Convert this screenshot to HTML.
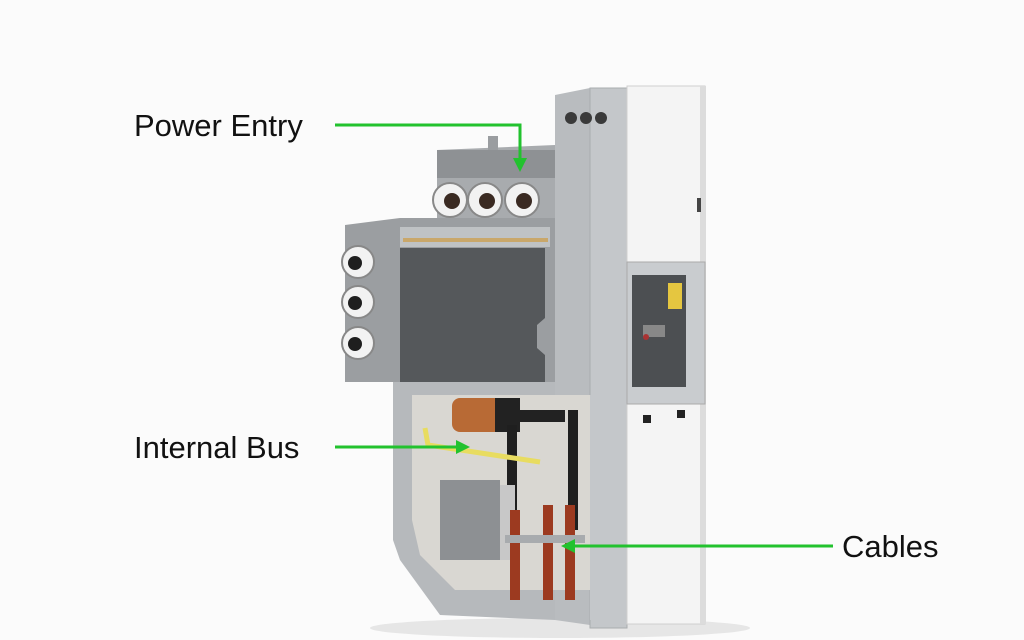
<!DOCTYPE html>
<html><head><style>
html,body{margin:0;padding:0;background:#fbfbfb;width:1024px;height:640px;overflow:hidden}
</style></head><body>
<svg width="1024" height="640" xmlns="http://www.w3.org/2000/svg">
<rect width="1024" height="640" fill="#fbfbfb"/>
<!-- shadow -->
<ellipse cx="560" cy="628" rx="190" ry="10" fill="#e6e6e6"/>
<!-- tall column side -->
<polygon points="555,95 590,88 590,625 555,620" fill="#b9bcbf"/>
<rect x="590" y="88" width="37" height="540" fill="#c4c7ca"/>
<rect x="590" y="88" width="37" height="540" fill="none" stroke="#a9acaf"/>
<circle cx="571" cy="118" r="6" fill="#3a3a3a"/>
<circle cx="586" cy="118" r="6" fill="#3a3a3a"/>
<circle cx="601" cy="118" r="6" fill="#3a3a3a"/>
<!-- white front -->
<rect x="627" y="86" width="78" height="538" fill="#f4f4f4" stroke="#cfcfcf"/>
<rect x="700" y="86" width="6" height="538" fill="#dcdcdc"/>
<rect x="697" y="198" width="4" height="14" fill="#444"/>
<!-- device panel -->
<rect x="627" y="262" width="78" height="142" fill="#c9cccf" stroke="#aaa"/>
<rect x="632" y="275" width="54" height="112" fill="#4c4f52"/>
<rect x="668" y="283" width="14" height="26" fill="#e5c640"/>
<rect x="643" y="325" width="22" height="12" fill="#888"/>
<circle cx="646" cy="337" r="3" fill="#a33"/>
<rect x="643" y="415" width="8" height="8" fill="#222"/>
<rect x="677" y="410" width="8" height="8" fill="#222"/>
<!-- top box -->
<polygon points="437,150 555,145 555,262 437,262" fill="#a8abae"/>
<rect x="437" y="150" width="118" height="28" fill="#8e9194"/>
<rect x="488" y="136" width="10" height="14" fill="#9a9da0"/>
<g fill="#f2f2f2" stroke="#888" stroke-width="2">
<circle cx="450" cy="200" r="17"/><circle cx="485" cy="200" r="17"/><circle cx="522" cy="200" r="17"/></g>
<g fill="#3a2a22"><circle cx="452" cy="201" r="8"/><circle cx="487" cy="201" r="8"/><circle cx="524" cy="201" r="8"/></g>
<!-- middle box -->
<polygon points="345,225 400,218 555,218 555,382 345,382" fill="#9b9ea1"/>
<rect x="400" y="227" width="150" height="20" fill="#bfc2c4"/>
<rect x="403" y="238" width="145" height="4" fill="#c9a76a"/>
<polygon points="400,248 545,248 545,318 537,325 537,348 545,355 545,382 400,382" fill="#55585b"/>
<g fill="#f2f2f2" stroke="#888" stroke-width="2">
<circle cx="358" cy="262" r="16"/><circle cx="358" cy="302" r="16"/><circle cx="358" cy="343" r="16"/></g>
<g fill="#1e1e1e"><circle cx="355" cy="263" r="7"/><circle cx="355" cy="303" r="7"/><circle cx="355" cy="344" r="7"/></g>
<!-- lower compartment -->
<polygon points="393,382 555,382 555,620 440,615 400,560 393,540" fill="#b6b9bc"/>
<polygon points="412,395 592,395 592,590 455,590 420,555 412,520" fill="#d9d7d2"/>
<rect x="452" y="398" width="50" height="34" rx="8" fill="#b86a35"/>
<rect x="495" y="398" width="25" height="34" fill="#222"/>
<rect x="520" y="410" width="45" height="12" fill="#222"/>
<rect x="507" y="425" width="10" height="110" fill="#1f1f1f"/>
<rect x="568" y="410" width="10" height="120" fill="#1f1f1f"/>
<polyline points="425,428 428,445 540,462" fill="none" stroke="#e8dc60" stroke-width="5"/>
<rect x="440" y="480" width="60" height="80" fill="#8d9093"/>
<rect x="500" y="485" width="15" height="75" fill="#c8c8c8"/>
<rect x="510" y="510" width="10" height="90" fill="#9c3a20"/>
<rect x="543" y="505" width="10" height="95" fill="#9c3a20"/>
<rect x="565" y="505" width="10" height="95" fill="#9c3a20"/>
<rect x="505" y="535" width="80" height="8" fill="#a8abae"/>
<rect x="590" y="395" width="8" height="225" fill="#c4c7ca"/>
<!-- green leaders -->
<g stroke="#22c22e" stroke-width="3" fill="none">
<polyline points="335,125 520,125 520,160"/>
<line x1="335" y1="447" x2="458" y2="447"/>
<line x1="833" y1="546" x2="573" y2="546"/>
</g>
<g fill="#22c22e">
<polygon points="513,158 527,158 520,172"/>
<polygon points="456,440 456,454 470,447"/>
<polygon points="575,539 575,553 561,546"/>
</g>
<g font-family="Liberation Sans, sans-serif" font-size="31" fill="#111">
<text x="134" y="136">Power Entry</text>
<text x="134" y="458">Internal Bus</text>
<text x="842" y="557">Cables</text>
</g>
</svg>
</body></html>
